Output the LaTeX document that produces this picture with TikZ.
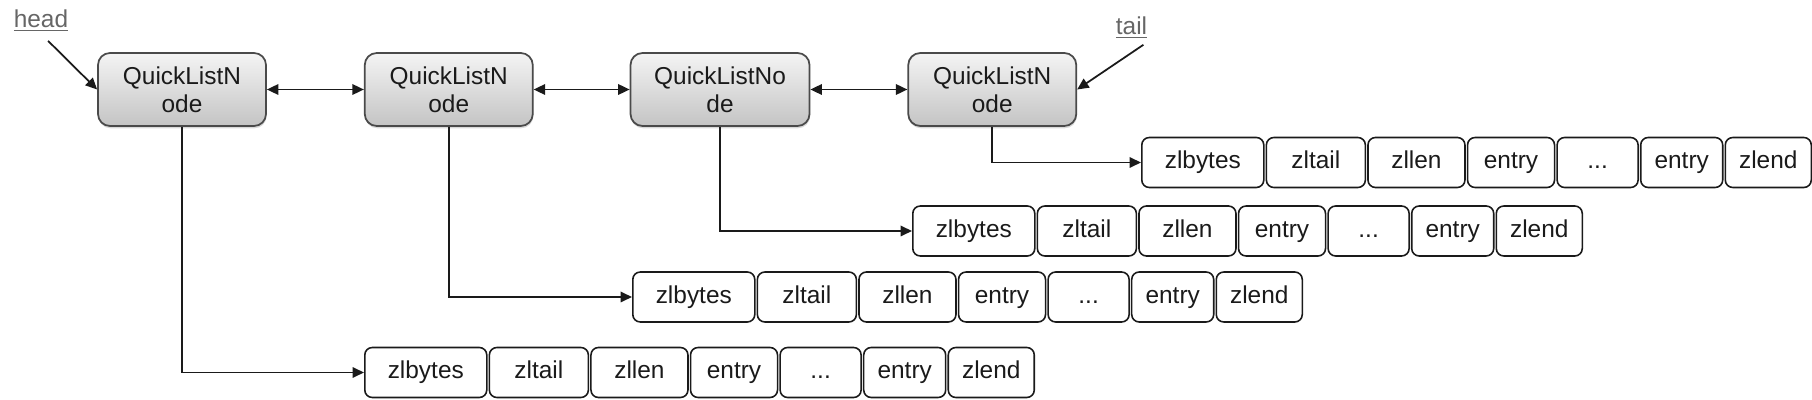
\documentclass[tikz,border=0pt]{standalone}
\usepackage{fontspec}
\setmainfont{Liberation Sans}
\usetikzlibrary{arrows.meta,positioning,shadows}
\definecolor{qltop}{HTML}{F4F4F4}
\definecolor{qlbottom}{HTML}{C4C4C4}
\definecolor{qlborder}{HTML}{4A4A4A}
\definecolor{labelgray}{HTML}{666666}
\definecolor{inkblack}{HTML}{1A1A1A}

\begin{document}
\begin{tikzpicture}[
    font=\fontsize{13.9}{16}\selectfont,
    >={Triangle[length=2.3mm, width=2.1mm]},
    qlnode/.style={draw=qlborder, line width=1pt, rounded corners=0.24cm, top color=qltop, bottom color=qlbottom, minimum width=3.36cm, minimum height=1.46cm, align=center, text=inkblack, drop shadow={shadow xshift=0.3pt, shadow yshift=-1.3pt, opacity=0.3}},
    cell/.style={draw=inkblack, fill=white, line width=0.9pt, rounded corners=0.15cm, minimum height=1cm, inner sep=0pt, text height=10pt, text depth=3pt, text=inkblack},
    bytescell/.style={cell, minimum width=2.44cm},
    tailcell/.style={cell, minimum width=1.98cm},
    lencell/.style={cell, minimum width=1.94cm},
    entrycell/.style={cell, minimum width=1.74cm},
    dotscell/.style={cell, minimum width=1.62cm},
    lastentrycell/.style={cell, minimum width=1.64cm},
    endcell/.style={cell, minimum width=1.72cm},
    arrow/.style={inkblack, ->, line width=1pt},
    pointer/.style={text=labelgray, inner sep=1pt, anchor=base},
]
    \useasboundingbox (0,0) rectangle (36.24,-8);

    % =====================================================================
    % QUICKLIST NODES
    % =====================================================================
    \node[qlnode] (ql1) at (3.64, -1.79) {QuickListN\\ode};
    \node[qlnode, right=1.94cm of ql1] (ql2) {QuickListN\\ode};
    \node[qlnode, right=1.92cm of ql2, minimum width=3.58cm] (ql3) {QuickListNo\\de};
    \node[qlnode, right=1.94cm of ql3] (ql4) {QuickListN\\ode};

    \draw[arrow, <->] (ql1) -- (ql2);
    \draw[arrow, <->] (ql2) -- (ql3);
    \draw[arrow, <->] (ql3) -- (ql4);

    % head / tail pointers
    \node[pointer] (headlbl) at (0.82, -0.56) {\underline{head}};
    \node[pointer] (taillbl) at (22.63, -0.70) {\underline{tail}};

    \draw[arrow, shorten <=0.2cm] (headlbl.south) -- (ql1.west);
    \draw[arrow, shorten <=0.14cm] (taillbl.south east) -- (ql4.east);

    % =====================================================================
    % ZIPLISTS
    % =====================================================================
    % ziplist of the tail node
    \node[bytescell, anchor=west] (zl4bytes) at (22.82, -3.25) {zlbytes};
    \node[tailcell, right=0.02cm of zl4bytes] (zl4tail) {zltail};
    \node[lencell, right=0.02cm of zl4tail] (zl4len) {zllen};
    \node[entrycell, right=0.02cm of zl4len] (zl4first) {entry};
    \node[dotscell, right=0.02cm of zl4first] (zl4dots) {...};
    \node[lastentrycell, right=0.02cm of zl4dots] (zl4last) {entry};
    \node[endcell, right=0.02cm of zl4last] (zl4end) {zlend};

    % ziplist of the third node
    \node[bytescell, anchor=west] (zl3bytes) at (18.24, -4.62) {zlbytes};
    \node[tailcell, right=0.02cm of zl3bytes] (zl3tail) {zltail};
    \node[lencell, right=0.02cm of zl3tail] (zl3len) {zllen};
    \node[entrycell, right=0.02cm of zl3len] (zl3first) {entry};
    \node[dotscell, right=0.02cm of zl3first] (zl3dots) {...};
    \node[lastentrycell, right=0.02cm of zl3dots] (zl3last) {entry};
    \node[endcell, right=0.02cm of zl3last] (zl3end) {zlend};

    % ziplist of the second node
    \node[bytescell, anchor=west] (zl2bytes) at (12.64, -5.94) {zlbytes};
    \node[tailcell, right=0.02cm of zl2bytes] (zl2tail) {zltail};
    \node[lencell, right=0.02cm of zl2tail] (zl2len) {zllen};
    \node[entrycell, right=0.02cm of zl2len] (zl2first) {entry};
    \node[dotscell, right=0.02cm of zl2first] (zl2dots) {...};
    \node[lastentrycell, right=0.02cm of zl2dots] (zl2last) {entry};
    \node[endcell, right=0.02cm of zl2last] (zl2end) {zlend};

    % ziplist of the head node
    \node[bytescell, anchor=west] (zl1bytes) at (7.28, -7.45) {zlbytes};
    \node[tailcell, right=0.02cm of zl1bytes] (zl1tail) {zltail};
    \node[lencell, right=0.02cm of zl1tail] (zl1len) {zllen};
    \node[entrycell, right=0.02cm of zl1len] (zl1first) {entry};
    \node[dotscell, right=0.02cm of zl1first] (zl1dots) {...};
    \node[lastentrycell, right=0.02cm of zl1dots] (zl1last) {entry};
    \node[endcell, right=0.02cm of zl1last] (zl1end) {zlend};

    % node -> ziplist
    \draw[arrow] (ql1.south) |- (zl1bytes.west);
    \draw[arrow] (ql2.south) |- (zl2bytes.west);
    \draw[arrow] (ql3.south) |- (zl3bytes.west);
    \draw[arrow] (ql4.south) |- (zl4bytes.west);

\end{tikzpicture}
\end{document}
